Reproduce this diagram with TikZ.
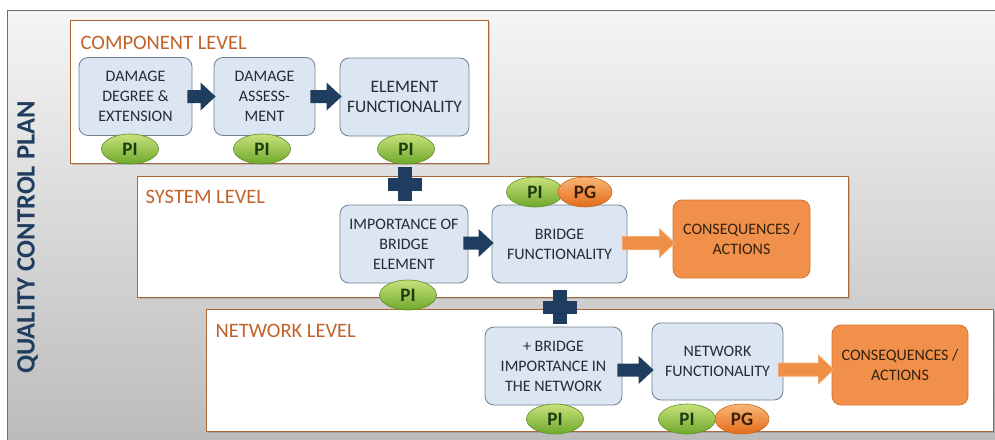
\documentclass[tikz,border=0pt]{standalone}
\usepackage{fontspec}
\setmainfont{Carlito}
\usetikzlibrary{shapes.geometric, calc, shadows}

\definecolor{navy}{HTML}{1F3D5F}
\definecolor{bgtop}{HTML}{F5F5F5}
\definecolor{bgbot}{HTML}{BBBBBB}
\definecolor{framegray}{HTML}{6E6E6E}
\definecolor{levelline}{HTML}{A8683A}
\definecolor{leveltext}{HTML}{C0622A}
\definecolor{boxfill}{HTML}{DCE6F2}
\definecolor{boxline}{HTML}{6F8091}
\definecolor{boxtext}{HTML}{222C38}
\definecolor{outfill}{HTML}{F0904A}
\definecolor{outline}{HTML}{D8742A}
\definecolor{outtext}{HTML}{33220F}
\definecolor{arrowfill}{HTML}{EF8E45}
\definecolor{arrowline}{HTML}{F5A86A}
\definecolor{pitop}{HTML}{C8E27C}
\definecolor{pibot}{HTML}{6EA82C}
\definecolor{pidraw}{HTML}{5F8F28}
\definecolor{pitext}{HTML}{1B3A0F}
\definecolor{pgtop}{HTML}{F9B676}
\definecolor{pgbot}{HTML}{E36C1A}
\definecolor{pgdraw}{HTML}{C8661C}
\definecolor{pgtext}{HTML}{3A1E05}

% block arrow from one node to the next: from, to, style, y offset
\newcommand{\blockarrow}[4]{%
  \coordinate (ba-s) at (#1.east);
  \coordinate (ba-t) at (#2.west |- #1.east);
  \path[#3] ($(ba-s)+(-5,#4-6.5)$) -- ($(ba-t)+(-13,#4-6.5)$) -- ($(ba-t)+(-13,#4-14)$)
    -- ($(ba-t)+(2,#4)$) -- ($(ba-t)+(-13,#4+14)$) -- ($(ba-t)+(-13,#4+6.5)$)
    -- ($(ba-s)+(-5,#4+6.5)$) -- cycle;}
% plus sign at a named coordinate
\newcommand{\plusmark}[1]{%
  \fill[navy] ($(#1)+(-17,-6.5)$) rectangle ($(#1)+(17,6.5)$);
  \fill[navy] ($(#1)+(-7,-17)$) rectangle ($(#1)+(7,17)$);}

\begin{document}
\begin{tikzpicture}[x=1pt, y=-1pt,
  levelbox/.style={draw=levelline, line width=1pt, fill=white, inner sep=0pt,
    drop shadow={shadow xshift=1.5pt, shadow yshift=-1.5pt, opacity=0.35}},
  leveltitle/.style={text=leveltext, font=\fontsize{20.5}{24}\selectfont, inner sep=0pt, anchor=base west},
  stepbox/.style={draw=boxline, fill=boxfill, rounded corners=9pt, line width=0.8pt, align=center,
    text=boxtext, font=\fontsize{16}{20}\selectfont, minimum height=78pt, inner sep=2pt},
  outbox/.style={draw=outline, fill=outfill, rounded corners=9pt, line width=0.8pt, align=center,
    text=outtext, font=\fontsize{16}{20}\selectfont, minimum height=78pt, inner sep=2pt},
  piell/.style={ellipse, draw=pidraw, top color=pitop, bottom color=pibot, line width=0.6pt,
    minimum width=57pt, minimum height=30pt, inner sep=0pt, text=pitext, font=\fontsize{19}{19}\selectfont\bfseries},
  pgell/.style={ellipse, draw=pgdraw, top color=pgtop, bottom color=pgbot, line width=0.6pt,
    minimum width=54pt, minimum height=30pt, inner sep=0pt, text=pgtext, font=\fontsize{19}{19}\selectfont\bfseries},
  navyarrow/.style={fill=navy},
  orangearrow/.style={fill=arrowfill, draw=arrowline, line width=1pt, line join=miter}]
\useasboundingbox (0,0) rectangle (995,439);
\path[top color=bgtop, bottom color=bgbot, draw=framegray, line width=1pt] (7,10) rectangle (1001,446);
\node[rotate=90, text=navy, font=\fontsize{26.5}{26.5}\selectfont\bfseries] (qcp) at (27.5,237.5) {QUALITY CONTROL PLAN};

% levels
\node[levelbox, minimum width=418pt, minimum height=143pt] (comp) at (279,91.5) {};
\node[levelbox, minimum width=711pt, minimum height=121pt] (sys) at (492.5,236.5) {};
\node[levelbox, minimum width=787pt, minimum height=122pt] (net) at (599.5,370) {};
\node[leveltitle] (comptitle) at ($(comp.north west)+(11,30)$) {COMPONENT LEVEL};
\node[leveltitle] (systitle) at ($(sys.north west)+(9,28)$) {SYSTEM LEVEL};
\node[leveltitle] (nettitle) at ($(net.north west)+(10,29)$) {NETWORK LEVEL};

% component level
\node[stepbox, minimum width=113pt] (dmg) at (135.5,96.5) {DAMAGE\\DEGREE \&\\EXTENSION};
\node[stepbox, minimum width=101pt] (asm) at (264.5,96.5) {DAMAGE\\ASSESS-\\MENT};
\node[stepbox, minimum width=129pt, font=\fontsize{17.5}{20}\selectfont] (efun) at (404.5,97) {ELEMENT\\FUNCTIONALITY};

% system level
\node[stepbox, minimum width=128pt] (imp) at (404,244) {IMPORTANCE OF\\BRIDGE\\ELEMENT};
\node[stepbox, minimum width=135pt] (bfun) at (559.5,244) {BRIDGE\\FUNCTIONALITY};
\node[outbox, minimum width=137pt] (cons1) at (741.5,239) {CONSEQUENCES /\\ACTIONS};

% network level
\node[stepbox, minimum width=137pt] (bimp) at (553.5,366) {+ BRIDGE\\IMPORTANCE IN\\THE NETWORK};
\node[stepbox, minimum width=131pt, minimum height=77pt] (nfun) at (717.5,361.5) {NETWORK\\FUNCTIONALITY};
\node[outbox, minimum width=136pt, minimum height=80pt] (cons2) at (900,365) {CONSEQUENCES /\\ACTIONS};

% arrows
\blockarrow{dmg}{asm}{navyarrow}{0}
\blockarrow{asm}{efun}{navyarrow}{0}
\blockarrow{imp}{bfun}{navyarrow}{-1}
\blockarrow{bfun}{cons1}{orangearrow}{-1}
\blockarrow{bimp}{nfun}{navyarrow}{4}
\blockarrow{nfun}{cons2}{orangearrow}{8}

% indicators
\node[piell] (pi1) at (130,149) {PI};
\node[piell] (pi2) at (262,149) {PI};
\node[piell] (pi3) at (406,149) {PI};
\node[piell] (pi4) at (535,192) {PI};
\node[pgell] (pg1) at (585,192) {PG};
\node[piell] (pi5) at (408,295) {PI};
\node[piell] (pi6) at (555,419) {PI};
\node[piell] (pi7) at (687,419) {PI};
\node[pgell] (pg2) at (742,419) {PG};

\coordinate (plus1) at ($(pi3.south)!0.5!(imp.north)$);
\coordinate (plus2) at ($(bfun.south)!0.5!(bimp.north)+(3,2)$);
\plusmark{plus1}
\plusmark{plus2}
\end{tikzpicture}
\end{document}
